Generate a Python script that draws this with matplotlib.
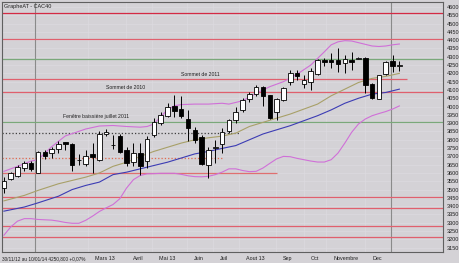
import matplotlib
matplotlib.use("Agg")
import matplotlib.pyplot as plt
import numpy as np

plt.rcParams['font.family'] = ['Liberation Sans', 'DejaVu Sans']

# ---- weekly candles (30/11/12 -> 10/01/14) ----
opens = [3508, 3564, 3582, 3628, 3662, 3600, 3725, 3719, 3745, 3785,
         3773, 3680, 3654, 3716, 3676, 3832, 3770, 3823, 3740, 3668,
         3722, 3670, 3830, 3903, 3946, 4004, 3984, 3923, 3859, 3815,
         3650, 3750, 3775, 3850, 3920, 3982, 4044, 4074, 4116, 4068,
         3969, 4040, 4148, 4204, 4136, 4146, 4198, 4281, 4281, 4281,
         4263, 4282, 4288, 4291, 4138, 4048, 4196, 4277, 4245]
highs = [3578, 3608, 3648, 3672, 3674, 3730, 3738, 3755, 3795, 3789,
         3781, 3714, 3738, 3781, 3850, 3862, 3830, 3835, 3758, 3780,
         3779, 3820, 3929, 3969, 4020, 4070, 4065, 3980, 3879, 3830,
         3758, 3800, 3870, 3925, 4000, 4050, 4090, 4130, 4125, 4070,
         4050, 4115, 4220, 4220, 4190, 4230, 4285, 4295, 4320, 4351,
         4311, 4331, 4300, 4297, 4140, 4192, 4275, 4308, 4272]
lows = [3478, 3556, 3575, 3614, 3614, 3598, 3683, 3690, 3719, 3739,
        3612, 3648, 3642, 3600, 3672, 3820, 3745, 3720, 3640, 3640,
        3585, 3630, 3819, 3889, 3939, 3940, 3930, 3790, 3779, 3650,
        3570, 3660, 3720, 3840, 3900, 3965, 4030, 4065, 4004, 3925,
        3920, 4035, 4130, 4160, 4110, 4100, 4190, 4245, 4235, 4210,
        4204, 4220, 4284, 4082, 4048, 4046, 4190, 4210, 4215]
closes = [3552, 3598, 3638, 3658, 3622, 3725, 3705, 3743, 3777, 3775,
          3646, 3676, 3704, 3698, 3836, 3848, 3766, 3728, 3662, 3722,
          3644, 3803, 3908, 3949, 3999, 3976, 3943, 3869, 3799, 3655,
          3740, 3755, 3849, 3918, 3969, 4042, 4074, 4118, 4065, 3929,
          4048, 4110, 4202, 4185, 4162, 4214, 4283, 4267, 4267, 4259,
          4286, 4270, 4290, 4130, 4052, 4188, 4271, 4242, 4250]

# ---- indicators (read at candle indices) ----
bb_up_idx = [0, 2, 4, 5, 7, 9, 12, 14, 16, 18, 20, 21, 22, 23, 24, 25, 26, 28, 30, 32,
             33, 35, 37, 39, 41, 43, 45, 46, 47, 48, 49, 50, 51, 52, 53, 54, 55, 56, 57, 58]
bb_up = [3610, 3640, 3672, 3680, 3758, 3823, 3865, 3883, 3886, 3880, 3876, 3880, 3895, 3940,
         3980, 4005, 4012, 4015, 4015, 4020, 4015, 4035, 4080, 4120, 4150, 4195, 4250, 4290,
         4330, 4372, 4390, 4397, 4395, 4385, 4375, 4365, 4362, 4365, 4372, 4377]
bb_low = [3225, 3275, 3310, 3325, 3325, 3320, 3318, 3316, 3310, 3302,
          3297, 3297, 3315, 3340, 3368, 3390, 3410, 3445, 3510, 3560,
          3585, 3595, 3596, 3598, 3598, 3598, 3592, 3583, 3578, 3577,
          3580, 3590, 3605, 3625, 3625, 3615, 3608, 3610, 3630, 3658,
          3685, 3700, 3698, 3688, 3680, 3672, 3666, 3666, 3680, 3720,
          3780, 3845, 3895, 3925, 3945, 3958, 3970, 3985, 4004]
ma_idx = [0, 3, 5, 8, 10, 12, 14, 16, 18, 20, 22, 24, 26, 28, 30, 32, 34, 36, 38, 40,
          42, 44, 46, 48, 50, 52, 54, 56, 58]
ma_olive = [3432, 3465, 3495, 3535, 3555, 3575, 3600, 3640, 3665, 3700, 3730, 3755, 3780,
            3800, 3812, 3822, 3840, 3880, 3905, 3930, 3955, 3985, 4015, 4065, 4105, 4145,
            4170, 4182, 4200]
ma_blue = [3370, 3395, 3420, 3460, 3500, 3525, 3545, 3590, 3605, 3625, 3645, 3665, 3690,
           3715, 3730, 3748, 3765, 3800, 3835, 3860, 3885, 3915, 3945, 3980, 4020, 4050,
           4075, 4085, 4105]

# ---- horizontal levels: value, end index, colour, style ----
levels = [4562, 4409, 4285, 4169, 4088, 3910, 3841, 3690, 3600, 3457, 3387, 3279, 3217]
level_end = [64.4, 64.4, 64.4, 59.1, 64.4, 64.4, 34.6, 32.0, 40.0, 64.4, 64.4, 64.4, 64.4]
level_col = ['#d42a44', '#e0606e', '#7aa87a', '#e0606e', '#e0606e', '#7aa87a', '#404040',
             '#e06a50', '#e07070', '#e0606e', '#e0606e', '#e0606e', '#e0606e']
level_ls = ['-', '-', '-', '-', '-', '-', ':', ':', '-', '-', '-', '-', '-']

annot_text = ["Sommet de 2011", "Sommet de 2010", "Fenêtre baissière juillet 2011"]
annot_x = [26.0, 15.0, 8.6]
annot_y = [4180, 4100, 3924]

yticks = list(range(3150, 4601, 50))
month_labels = ["Mars 13", "Avril", "Mai 13", "Juin", "Juil", "Aout 13", "Sep", "Oct",
                "Novembre", "Dec"]
month_pos = [13.3, 18.9, 22.7, 27.9, 31.7, 35.5, 40.9, 45.0, 48.3, 54.0]
header = "30/11/12 au 10/01/14 4250,800 +0,07%"

fig = plt.figure(figsize=(4.6, 2.63), dpi=100)
fig.patch.set_facecolor('#d4d2d6')
ax = fig.add_axes([2/460, 1 - 252/263, 441/460, 250/263])
ax.set_facecolor('#d4d2d6')
ax.set_xlim(-0.28, 64.4)
ax.set_ylim(3124, 4630)

# faint grid
for v in yticks:
    ax.axhline(v, color='#dcdadf', lw=0.5, zorder=0)
for p in month_pos:
    ax.axvline(p - 1.0, color='#dcdadf', lw=0.5, zorder=0)
ax.axvline(4.6, color='#8a8a8a', lw=0.8, zorder=1)
ax.axvline(56.8, color='#8a8a8a', lw=0.8, zorder=1)

for v, e, c, ls in zip(levels, level_end, level_col, level_ls):
    ax.hlines(v, -0.28, e, colors=c, linestyles=ls, lw=0.9, zorder=2)

ax.plot(bb_up_idx, bb_up, color='#d070d8', lw=0.8, zorder=3)
ax.plot(range(len(bb_low)), bb_low, color='#d070d8', lw=0.8, zorder=3)
ax.plot(ma_idx, ma_olive, color='#a8a068', lw=0.8, zorder=3)
ax.plot(ma_idx, ma_blue, color='#3c3cb4', lw=0.8, zorder=3)

x = np.arange(len(opens))
o = np.array(opens); c = np.array(closes)
ax.vlines(x, lows, highs, colors='black', lw=0.7, zorder=4)
up = c >= o
bottom = np.minimum(o, c)
height = np.maximum(np.abs(c - o), 2)
ax.bar(x, height, bottom=bottom, width=0.66,
       color=np.where(up, 'white', 'black'), edgecolor='black', lw=0.6, zorder=5)

for t, xx, yy in zip(annot_text, annot_x, annot_y):
    ax.text(xx, yy, t, fontsize=3.7, color='#202020', va='bottom', ha='left', zorder=6)

ax.yaxis.tick_right()
ax.set_yticks(yticks)
ax.set_yticklabels([str(v) for v in yticks], fontsize=4, color='#202020')
ax.tick_params(axis='y', length=0, pad=3)
ax.set_xticks([])
for s in ax.spines.values():
    s.set_color('#606060'); s.set_linewidth(0.8)

ax.text(0.004, 0.992, "GrapheAT - CAC40", transform=ax.transAxes, fontsize=4,
        va='top', ha='left', color='#202020')
ax.text(-0.25, 3100, header, fontsize=3.4, va='top', ha='left', color='#202020', clip_on=False)
for lab, p in zip(month_labels, month_pos):
    ax.text(p, 3100, lab, fontsize=3.9, va='top', ha='left', color='#202020', clip_on=False)

fig.savefig("out.png", dpi=100, facecolor=fig.get_facecolor())
